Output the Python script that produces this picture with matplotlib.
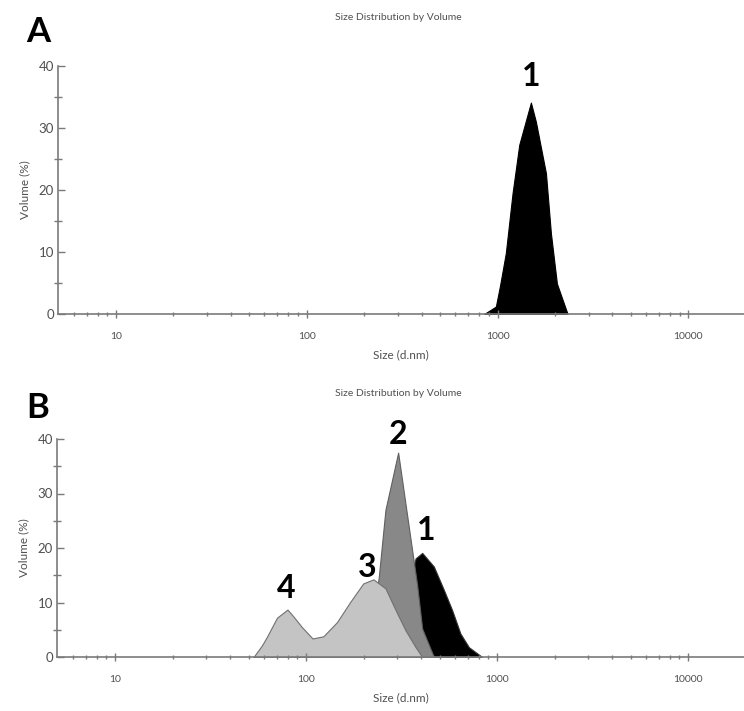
import matplotlib
matplotlib.use("Agg")
import matplotlib.pyplot as plt
from matplotlib.ticker import FixedLocator, NullFormatter

plt.rcParams['font.family'] = ['Lato', 'DejaVu Sans']

# panel A - sample 1
sizes_a1 = [851, 980, 1028, 1105, 1199, 1300, 1496, 1589, 1794, 1905, 2048, 2329]
vol_a1 = [0, 1.2, 4.4, 9.8, 19.5, 27.3, 34.1, 31.0, 22.7, 13.0, 4.9, 0]

# panel B - samples 1, 2 and 3/4
sizes_b1 = [300, 340, 374, 405, 466, 526, 581, 642, 711, 834]
vol_b1 = [0, 12.0, 18.1, 19.1, 16.6, 12.3, 8.6, 4.3, 1.8, 0]
sizes_b2 = [190, 220, 240, 260, 303, 381, 405, 466]
vol_b2 = [0, 5.0, 14.7, 27.0, 37.5, 13.2, 5.2, 0]
sizes_b3 = [53, 58.6, 62.3, 70.3, 79.8, 85.9, 94.9, 108, 123, 145, 170, 199,
            225, 260, 294, 331, 374, 405]
vol_b3 = [0, 2.1, 3.7, 7.2, 8.7, 7.4, 5.5, 3.4, 3.8, 6.4, 10.1, 13.5,
          14.25, 12.6, 8.6, 4.9, 1.8, 0]

major_x = [10, 100, 1000, 10000]
minor_x = [6, 7, 8, 9] + [m * d for d in (10, 100, 1000) for m in range(2, 10)]
major_y = [0, 10, 20, 30, 40]
minor_y = [5, 15, 25, 35]

W, H = 744, 711
fig = plt.figure(figsize=(W / 100, H / 100), dpi=100)

axcol = '#7a7a7a'
txtcol = '#505050'


def make_axes(left, right, top, bottom, title_y):
    ax = fig.add_axes([left / W, 1 - bottom / H, (right - left) / W, (bottom - top) / H])
    ax.set_xscale('log')
    ax.set_xlim(4.96, 19600)
    ax.set_ylim(0, 40)
    for s in ('top', 'right'):
        ax.spines[s].set_visible(False)
    for s in ('left', 'bottom'):
        ax.spines[s].set_color(axcol)
        ax.spines[s].set_linewidth(1.2)
    ax.xaxis.set_major_locator(FixedLocator(major_x))
    ax.xaxis.set_minor_locator(FixedLocator(minor_x))
    ax.xaxis.set_minor_formatter(NullFormatter())
    ax.set_xticklabels([str(v) for v in major_x])
    ax.yaxis.set_major_locator(FixedLocator(major_y))
    ax.yaxis.set_minor_locator(FixedLocator(minor_y))
    ax.tick_params(axis='x', which='major', direction='inout', length=6, width=1,
                   color=axcol, labelsize=7.5, labelcolor=txtcol, pad=10)
    ax.tick_params(axis='x', which='minor', direction='inout', length=3, width=1,
                   color=axcol)
    ax.tick_params(axis='y', which='major', direction='in', length=5, width=1,
                   color=axcol, labelsize=9.5, labelcolor=txtcol, pad=3)
    ax.tick_params(axis='y', which='minor', direction='inout', length=6, width=1,
                   color=axcol)
    ax.set_ylabel('Volume (%)', fontsize=8.5, color=txtcol, labelpad=6)
    ax.set_xlabel('Size (d.nm)', fontsize=8.5, color=txtcol, labelpad=6)
    fig.text(398 / W, 1 - title_y / H, 'Size Distribution by Volume', fontsize=7.5,
             color=txtcol, ha='center', va='center')
    ax.patch.set_alpha(0)
    return ax


axA = make_axes(58, 744, 66, 314, 18)
axA.fill_between(sizes_a1, vol_a1, color='black', edgecolor='black', linewidth=0.8)
axA.text(1496, 38.3, '1', fontsize=23, fontweight='bold', ha='center', va='center')
fig.text(38 / W, 1 - 32 / H, 'A', fontsize=25, fontweight='bold', ha='center', va='center')

axB = make_axes(57, 744, 439, 657, 394)
axB.fill_between(sizes_b1, vol_b1, color='black', edgecolor='#333333', linewidth=0.8)
axB.fill_between(sizes_b2, vol_b2, facecolor='#888888', edgecolor='#606060', linewidth=0.8)
axB.fill_between(sizes_b3, vol_b3, facecolor='#c4c4c4', edgecolor='#707070', linewidth=0.8)
axB.text(303, 40.8, '2', fontsize=23, fontweight='bold', ha='center', va='center')
axB.text(423, 23.2, '1', fontsize=23, fontweight='bold', ha='center', va='center')
axB.text(208, 16.5, '3', fontsize=23, fontweight='bold', ha='center', va='center')
axB.text(79, 12.6, '4', fontsize=23, fontweight='bold', ha='center', va='center')
fig.text(38 / W, 1 - 408 / H, 'B', fontsize=25, fontweight='bold', ha='center', va='center')

fig.savefig('out.png', dpi=100)
